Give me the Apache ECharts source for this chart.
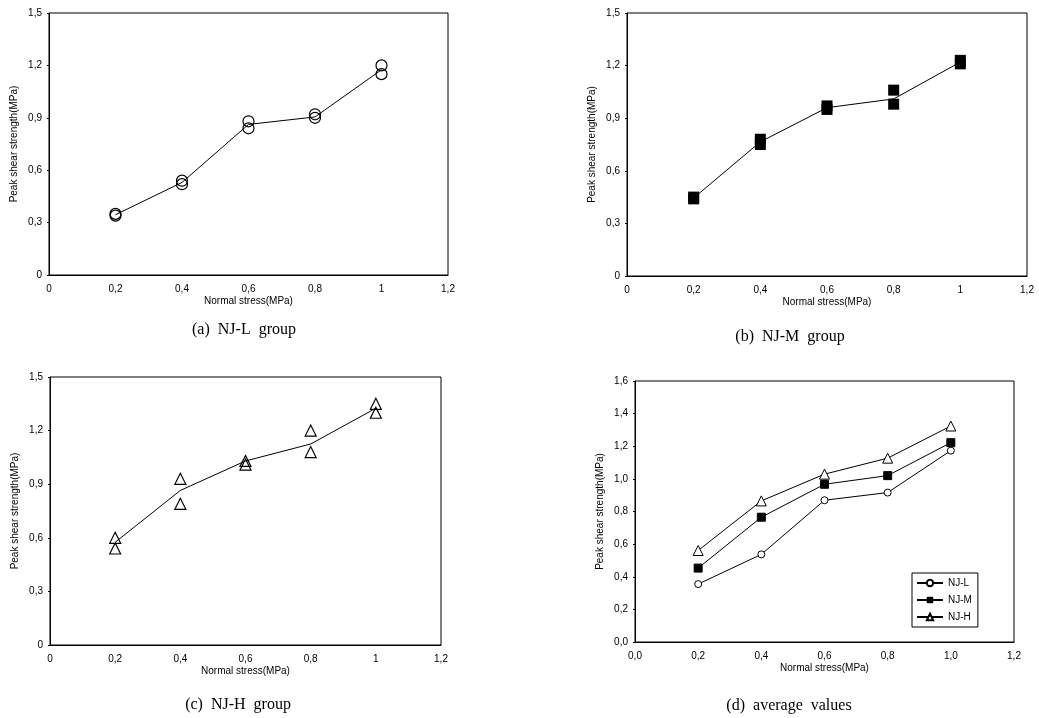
<!DOCTYPE html>
<html><head><meta charset="utf-8">
<script src="https://cdn.jsdelivr.net/npm/echarts@6/dist/echarts.min.js"></script>
<style>html,body{margin:0;padding:0;background:#fff}#c{width:1039px;height:718px}</style>
</head><body><div id="c"></div>
<script>
// Normal stress (MPa)
const stress = [0.2, 0.4, 0.6, 0.8, 1.0];
// (a) NJ-L group: two tests + mean line
const lTest1 = [0.35, 0.54, 0.88, 0.92, 1.20];
const lTest2 = [0.34, 0.52, 0.84, 0.90, 1.15];
const lMean  = [0.345, 0.53, 0.862, 0.905, 1.175];
// (b) NJ-M group
const mTest1 = [0.45, 0.78, 0.97, 1.06, 1.23];
const mTest2 = [0.44, 0.75, 0.95, 0.98, 1.21];
const mMean  = [0.445, 0.765, 0.96, 1.01, 1.22];
// (c) NJ-H group
const hTest1 = [0.60, 0.93, 1.03, 1.20, 1.35];
const hTest2 = [0.54, 0.79, 1.01, 1.08, 1.30];
const hMean  = [0.575, 0.865, 1.03, 1.125, 1.325];
// (d) average values
const avgL = [0.355, 0.537, 0.869, 0.916, 1.173];
const avgM = [0.453, 0.765, 0.967, 1.02, 1.222];
const avgH = [0.561, 0.865, 1.029, 1.127, 1.324];
const seriesNames = ['NJ-L', 'NJ-M', 'NJ-H'];
const captions = ['(a)  NJ-L  group', '(b)  NJ-M  group', '(c)  NJ-H  group', '(d)  average  values'];
const xName = 'Normal stress(MPa)';
const yName = 'Peak shear strength(MPa)';

const zip = (xs, ys) => xs.map((x, i) => [x, ys[i]]);
const fmtShort = v => String(+(+v).toFixed(2)).replace('.', ',');
const fmtFixed = v => (+v).toFixed(1).replace('.', ',');

const font = 'Liberation Sans, Arial, sans-serif';
const axisText = {color: '#000', fontSize: 10, fontFamily: font};

const grids = [
  {left: 49, top: 13, width: 399, height: 262},
  {left: 627, top: 13, width: 400, height: 263},
  {left: 50, top: 377, width: 391, height: 268},
  {left: 635, top: 381, width: 379, height: 261}
].map(g => Object.assign(g, {show: true, borderColor: '#000', borderWidth: 1, backgroundColor: 'transparent'}));

function xAxis(i, fmt) {
  return {
    type: 'value', gridIndex: i, min: 0, max: 1.2, interval: 0.2,
    name: xName, nameLocation: 'middle', nameGap: 21,
    nameTextStyle: Object.assign({}, axisText, {fontSize: 10}),
    axisLine: {onZero: false, lineStyle: {color: '#000', width: 1}},
    axisTick: {show: false},
    axisLabel: Object.assign({}, axisText, {margin: 9, formatter: fmt}),
    splitLine: {show: false}
  };
}
function yAxis(i, max, interval, fmt) {
  return {
    type: 'value', gridIndex: i, min: 0, max: max, interval: interval,
    name: yName, nameLocation: 'middle', nameGap: 30,
    nameTextStyle: Object.assign({}, axisText, {fontSize: 10}),
    axisLine: {onZero: false, lineStyle: {color: '#000', width: 1}},
    axisTick: {show: true, length: 2, lineStyle: {color: '#000'}},
    axisLabel: Object.assign({}, axisText, {margin: 7, formatter: fmt}),
    splitLine: {show: false}
  };
}

const lineStyle = {color: '#000', width: 1};
function meanLine(i, ys) {
  return {type: 'line', xAxisIndex: i, yAxisIndex: i, data: zip(stress, ys),
    showSymbol: false, symbol: 'none', lineStyle: lineStyle, silent: true, z: 2};
}
function pts(i, ys, symbol, size, filled) {
  return {type: 'scatter', xAxisIndex: i, yAxisIndex: i, data: zip(stress, ys),
    symbol: symbol, symbolSize: size, silent: true, z: 3,
    itemStyle: filled ? {color: '#000', opacity: 1} : {color: 'rgba(0,0,0,0)', borderColor: '#000', borderWidth: 1.2, opacity: 1}};
}
function avgLine(name, ys, symbol, size, filled) {
  return {type: 'line', name: name, xAxisIndex: 3, yAxisIndex: 3, data: zip(stress, ys),
    symbol: symbol, symbolSize: size, showSymbol: true, lineStyle: lineStyle, z: 3,
    itemStyle: filled ? {color: '#000', borderColor: '#000'} : {color: '#fff', borderColor: '#000', borderWidth: 1}};
}

const capPos = [[239, 317], [785, 324], [233, 692], [784, 693]];
const titles = captions.map((t, i) => ({
  text: t, left: capPos[i][0], top: capPos[i][1], textAlign: 'center',
  textStyle: {fontFamily: 'Liberation Serif, Times New Roman, serif', fontSize: 16, fontWeight: 'normal', color: '#000'}
}));

const chart = echarts.init(document.getElementById('c'), null, {renderer: 'canvas'});
chart.setOption({
  animation: false,
  backgroundColor: '#fff',
  title: titles,
  grid: grids,
  xAxis: [xAxis(0, fmtShort), xAxis(1, fmtShort), xAxis(2, fmtShort), xAxis(3, fmtFixed)],
  yAxis: [yAxis(0, 1.5, 0.3, fmtShort), yAxis(1, 1.5, 0.3, fmtShort), yAxis(2, 1.5, 0.3, fmtShort), yAxis(3, 1.6, 0.2, fmtFixed)],
  legend: {
    data: seriesNames, orient: 'vertical', left: 912, top: 573,
    itemWidth: 26, itemHeight: 8, itemGap: 7, padding: [5, 6, 5, 4],
    borderColor: '#000', borderWidth: 1, backgroundColor: '#fff',
    textStyle: {color: '#000', fontSize: 10, fontFamily: font}
  },
  series: [
    meanLine(0, lMean), pts(0, lTest1, 'circle', 11, false), pts(0, lTest2, 'circle', 11, false),
    meanLine(1, mMean), pts(1, mTest1, 'rect', 11, true), pts(1, mTest2, 'rect', 11, true),
    meanLine(2, hMean), pts(2, hTest1, 'triangle', 11, false), pts(2, hTest2, 'triangle', 11, false),
    avgLine(seriesNames[0], avgL, 'circle', 7, false),
    avgLine(seriesNames[1], avgM, 'rect', 8, true),
    avgLine(seriesNames[2], avgH, 'triangle', 10, false)
  ]
});
</script>
</body></html>
